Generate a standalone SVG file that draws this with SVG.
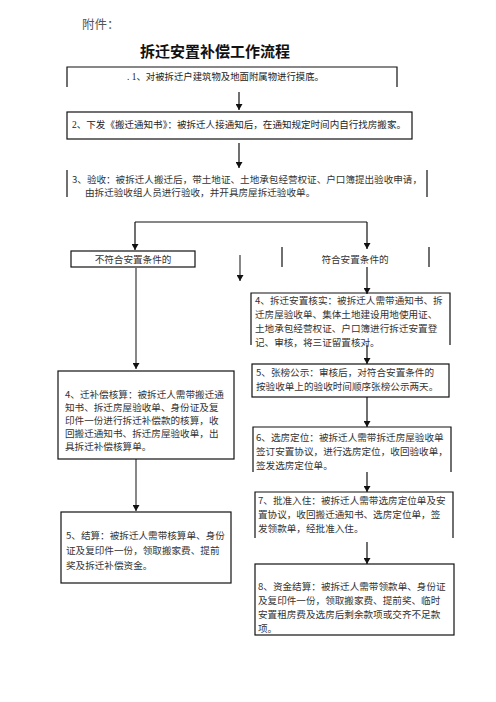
<svg xmlns="http://www.w3.org/2000/svg" width="496" height="702" viewBox="0 0 496 702">
<style>
.bx{fill:none;stroke:#111;stroke-width:1.2}
.t{font-family:"Noto Sans CJK SC","Noto Sans",sans-serif;font-size:9.6px;fill:#333}
.s{font-family:"Liberation Serif","Noto Sans CJK SC",serif;font-size:9.4px;fill:#222}
.c{stroke:#111;stroke-width:1.2;fill:none;marker-end:url(#ah)}
.g{stroke:#555;stroke-width:1.4;fill:none;marker-end:url(#ah)}
</style>
<defs>
<marker id="ah" markerUnits="userSpaceOnUse" markerWidth="6" markerHeight="7" refX="6" refY="3.5" orient="auto">
<path d="M0,0 L6,3.5 L0,7 z" fill="#111"/>
</marker>
</defs>
<rect width="496" height="702" fill="#fff"/>
<text x="82" y="29" font-family="Noto Sans CJK SC,sans-serif" font-size="12.5" fill="#555">附件：</text>
<text x="140" y="57" font-family="Noto Sans CJK SC,sans-serif" font-size="15" font-weight="bold" fill="#111">拆迁安置补偿工作流程</text>

<g id="connectors">
<line class="c" x1="239" y1="92" x2="239" y2="110"/>
<line class="c" x1="239" y1="143" x2="239" y2="168"/>
<polyline class="bx" points="135,222 367,222"/>
<line class="c" x1="135" y1="222" x2="135" y2="250"/>
<line class="c" x1="367" y1="222" x2="367" y2="249"/>
<line class="g" x1="240" y1="255" x2="240" y2="281"/>
<line class="g" x1="136" y1="268" x2="136" y2="369"/>
<line class="c" x1="367" y1="267" x2="367" y2="294"/>
<line class="c" x1="367" y1="345" x2="367" y2="364"/>
<line class="c" x1="367" y1="397" x2="367" y2="427"/>
<line class="c" x1="367" y1="472" x2="367" y2="492"/>
<line class="c" x1="367" y1="542" x2="367" y2="564"/>
<line class="g" x1="136" y1="459" x2="136" y2="511"/>
</g>

<g id="n1">
<path class="bx" d="M67,87 V67 H397 V87"/>
<text class="s" x="127" y="80">. 1、对被拆迁户建筑物及地面附属物进行摸底。</text>
</g>
<g id="n2">
<rect class="bx" x="67" y="112" width="345" height="27"/>
<text class="s" x="72" y="128" textLength="334" lengthAdjust="spacingAndGlyphs">2、下发《搬迁通知书》：被拆迁人接通知后，在通知规定时间内自行找房搬家。</text>
</g>
<g id="n3">
<path class="bx" d="M67,170 V197 M427,170 V197"/>
<text class="t" x="72" y="183" textLength="350" lengthAdjust="spacingAndGlyphs">3、验收：被拆迁人搬迁后，带土地证、土地承包经营权证、户口簿提出验收申请，</text>
<text class="t" x="85" y="196">由拆迁验收组人员进行验收，并开具房屋拆迁验收单。</text>
</g>
<g id="n_no">
<rect class="bx" x="71" y="251" width="124" height="16"/>
<text class="t" x="133" y="263" text-anchor="middle">不符合安置条件的</text>
</g>
<g id="n_yes">
<path class="bx" d="M282,247 V267 M429,247 V267"/>
<text class="t" x="355" y="263" text-anchor="middle">符合安置条件的</text>
</g>
<g id="r4">
<path class="bx" d="M251,345 V293 H450 V345"/>
<text class="t" x="255" y="304">4、拆迁安置核实：被拆迁人需带通知书、拆</text>
<text class="t" x="255" y="318">迁房屋验收单、集体土地建设用地使用证、</text>
<text class="t" x="255" y="332">土地承包经营权证、户口簿进行拆迁安置登</text>
<text class="t" x="255" y="346">记、审核，将三证留置核对。</text>
</g>
<g id="r5">
<rect class="bx" x="252" y="364" width="197" height="33"/>
<text class="t" x="256" y="376">5、张榜公示：审核后，对符合安置条件的</text>
<text class="t" x="256" y="390">按验收单上的验收时间顺序张榜公示两天。</text>
</g>
<g id="r6">
<path class="bx" d="M253,472 V427 H451 V472"/>
<text class="t" x="256" y="441">6、选房定位：被拆迁人需带拆迁房屋验收单</text>
<text class="t" x="256" y="455">签订安置协议，进行选房定位，收回验收单，</text>
<text class="t" x="256" y="469">签发选房定位单。</text>
</g>
<g id="r7">
<path class="bx" d="M255,538 V492 H453 V538"/>
<text class="t" x="258" y="504">7、批准入住：被拆迁人需带选房定位单及安</text>
<text class="t" x="258" y="518">置协议，收回搬迁通知书、选房定位单，签</text>
<text class="t" x="258" y="532">发领款单，经批准入住。</text>
</g>
<g id="r8">
<rect class="bx" x="255" y="564" width="199" height="71"/>
<text class="t" x="258" y="590">8、资金结算：被拆迁人需带领款单、身份证</text>
<text class="t" x="258" y="604">及复印件一份，领取搬家费、提前奖、临时</text>
<text class="t" x="258" y="618">安置租房费及选房后剩余款项或交齐不足款</text>
<text class="t" x="258" y="632">项。</text>
</g>
<g id="l4">
<rect class="bx" x="58" y="371" width="176" height="88"/>
<text class="t" x="65" y="398">4、迁补偿核算：被拆迁人需带搬迁通</text>
<text class="t" x="65" y="411">知书、拆迁房屋验收单、身份证及复</text>
<text class="t" x="65" y="424">印件一份进行拆迁补偿款的核算，收</text>
<text class="t" x="65" y="437">回搬迁通知书、拆迁房屋验收单，出</text>
<text class="t" x="65" y="450">具拆迁补偿核算单。</text>
</g>
<g id="l5">
<rect class="bx" x="61" y="512" width="170" height="71"/>
<text class="t" x="66" y="539">5、结算：被拆迁人需带核算单、身份</text>
<text class="t" x="66" y="554">证及复印件一份，领取搬家费、提前</text>
<text class="t" x="66" y="569">奖及拆迁补偿资金。</text>
</g>
</svg>
